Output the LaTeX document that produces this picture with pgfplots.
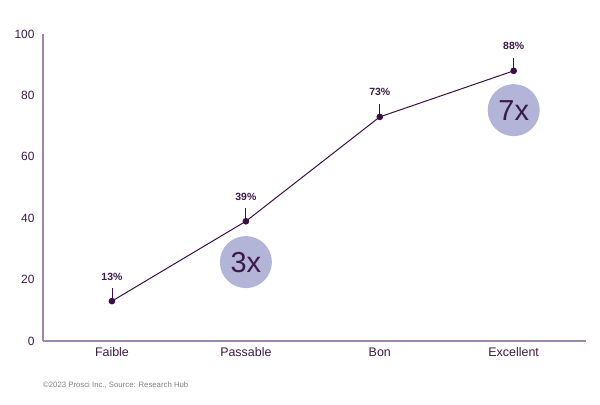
\documentclass[border=0pt]{standalone}
\usepackage{fontspec}
\setmainfont{Liberation Sans}
\usepackage{pgfplots}
\pgfplotsset{compat=1.18}
\definecolor{dpurple}{HTML}{3A0F45}
\definecolor{tpurple}{HTML}{3B1A4A}
\definecolor{apurple}{HTML}{9C88AB}
\definecolor{cfill}{HTML}{B2B4D8}
\begin{document}
\begin{tikzpicture}
\begin{axis}[
  scale only axis,
  width=543bp, height=307bp,
  xmin=-0.515, xmax=3.54, ymin=0, ymax=100,
  axis x line=bottom, axis y line=left,
  axis line style={-, apurple, line width=1.2pt},
  xtick={0,1,2,3},
  xticklabels={Faible,Passable,Bon,Excellent},
  ytick={0,20,40,60,80,100},
  major tick length=0pt,
  tick label style={font=\fontsize{12}{14}\selectfont, text=tpurple},
  /pgf/number format/assume math mode=true,
  xticklabel style={yshift=-3bp, font=\fontsize{12.5}{14}\selectfont},
  yticklabel style={xshift=-5bp},
  clip=false,
  nodes near coords={\pgfmathprintnumber\pgfplotspointmeta\%},
  every node near coord/.style={anchor=south, yshift=17bp, font=\bfseries\fontsize{10.5}{12}\selectfont, text=tpurple},
]
\fill[cfill] (axis cs:1,25.7) circle[radius=26bp];
\fill[cfill] (axis cs:3,75.2) circle[radius=26bp];
\node[text=tpurple, font=\fontsize{29}{32}\selectfont] at (axis cs:1,25.7) {3x};
\node[text=tpurple, font=\fontsize{29}{32}\selectfont] at (axis cs:3,75.2) {7x};
\addplot[dpurple, line width=1pt, mark=*, mark size=2.8pt,
  error bars/.cd, y dir=plus, y explicit, error mark=none,
  error bar style={dpurple, line width=0.8pt}]
  coordinates {(0,13) +- (0,4.2) (1,39) +- (0,4.2) (2,73) +- (0,4.2) (3,88) +- (0,4.2)};
\end{axis}
\node[anchor=west, inner sep=0pt, text=gray, font=\fontsize{7.8}{9}\selectfont] at ([yshift=-44bp]current axis.south west) {©2023 Prosci Inc., Source: Research Hub};
\useasboundingbox ([xshift=-43bp,yshift=-64bp]current axis.south west) rectangle ([xshift=14bp,yshift=34bp]current axis.north east);
\end{tikzpicture}
\end{document}
